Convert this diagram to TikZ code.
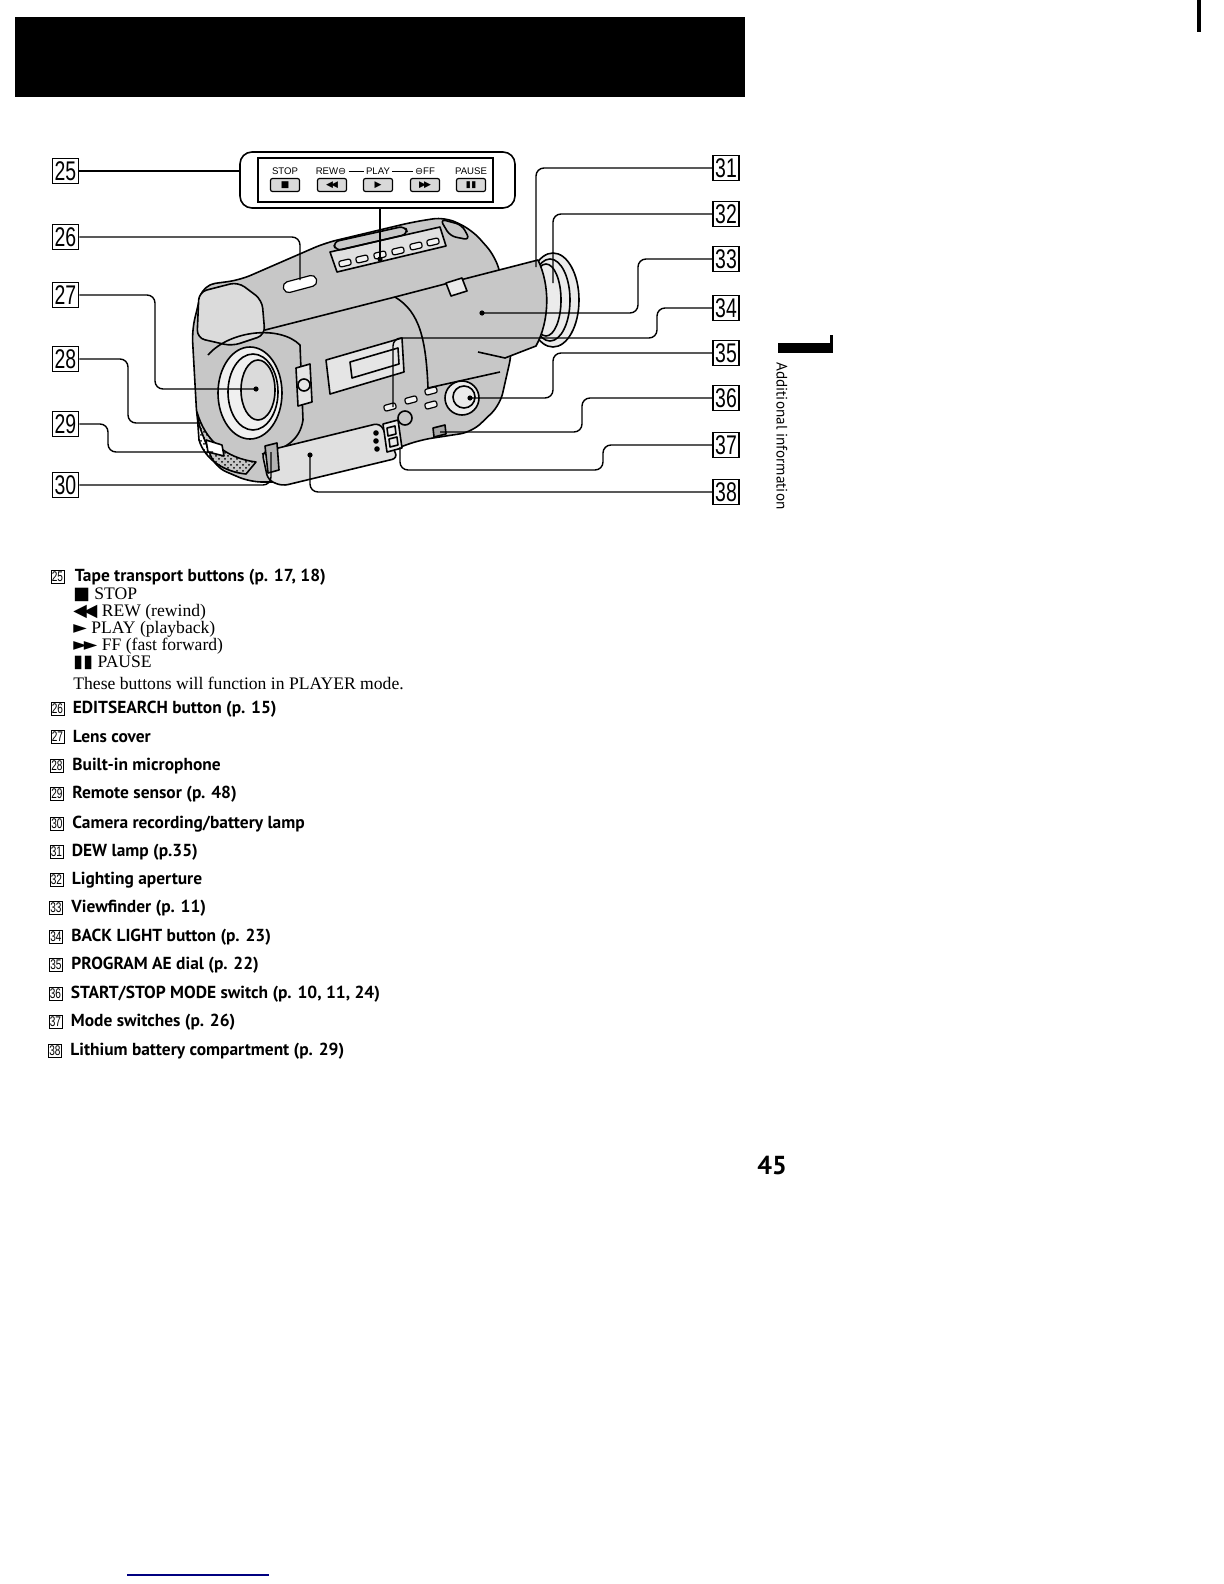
\documentclass[tikz,border=0pt]{standalone}
\usepackage{fontspec}
\usetikzlibrary{positioning,patterns}
\newfontfamily\labelfont[FakeStretch=0.72]{Liberation Sans}
\newfontfamily\itemfont{PT Sans}
\newfontfamily\descfont{Liberation Serif}
\newfontfamily\symfont{DejaVu Sans}
\newfontfamily\panelfont{Liberation Sans}

\begin{document}
\begin{tikzpicture}[
  x=0.5pt, y=-0.5pt,
  numbox/.style={rectangle, draw, line width=0.8pt, inner sep=0pt, minimum width=13pt, minimum height=12.5pt, font=\labelfont\fontsize{13.5}{13.5}\selectfont},
  smallbox/.style={rectangle, draw, line width=0.5pt, inner sep=0pt, minimum width=6.5pt, minimum height=6.5pt, font=\labelfont\fontsize{7}{7}\selectfont},
  item/.style={inner sep=0pt, anchor=west, font=\itemfont\bfseries\fontsize{8.7}{10}\selectfont},
  desc/.style={inner sep=0pt, anchor=west, font=\descfont\fontsize{8.8}{10}\selectfont},
  leader/.style={line width=0.7pt, rounded corners=4pt},
  part/.style={line width=0.8pt, line join=round},
  btn/.style={draw, line width=0.6pt, fill=black!5, rounded corners=1pt, inner sep=0pt, minimum width=6pt, minimum height=3pt},
  pbtn/.style={draw, line width=0.6pt, fill=black!15, rounded corners=1pt, inner sep=0pt, minimum width=14.5pt, minimum height=6.5pt, font=\symfont\fontsize{4.5}{4.5}\selectfont},
  paneltxt/.style={inner sep=1pt, font=\panelfont\fontsize{4.8}{4.8}\selectfont},
  dot/.style={fill, circle, inner sep=0pt, minimum size=2.6pt}
]
\useasboundingbox (0,0) rectangle (1224,1584);

% Header bar and page marks
\fill (15,17) rectangle (745,97);
\fill (1197,0) rectangle (1201,32);
\fill (778,343) rectangle (833,353);
\fill (830,335) rectangle (833,353);
\node[rotate=-90, inner sep=0pt, font=\itemfont\fontsize{7.6}{7.6}\selectfont] (tabtext) at (782,436) {Additional information};
\node[inner sep=0pt, font=\itemfont\bfseries\fontsize{13}{13}\selectfont] (pagenum) at (772,1166) {45};
\draw[line width=0.6pt, blue!50!black] (127,1575) -- (269,1575);

% Camera body
\draw[part, fill=black!22, rounded corners=6pt] (203,285) -- (240,280) -- (325,243) -- (413,222) -- (445,217) -- (472,230) -- (495,256) -- (505,290) -- (512,352) -- (500,405) -- (472,432) -- (420,440) -- (330,472) -- (290,482) -- (250,482) -- (215,467) -- (197,420) -- (192,330) -- cycle;

% Eyecup and viewfinder tube
\draw[part, fill=black!8] (553,300) ellipse [x radius=13pt, y radius=23.5pt];
\draw[part] (550,300) ellipse [x radius=10pt, y radius=20.5pt];
\draw[part] (546,300) ellipse [x radius=7.5pt, y radius=18pt];
\fill[black!22] (468,278) -- (538,260) .. controls (550,285) and (550,320) .. (536,346) -- (505,358) -- (468,350) -- cycle;
\draw[part] (468,278) -- (538,260) .. controls (550,285) and (550,320) .. (536,346) -- (505,358) -- (478,352);
\draw[part] (395,297) -- (468,278);
\draw[part, fill=black!8] (446,283) -- (462,278) -- (467,291) -- (451,296) -- cycle;

% Hood and top
\draw[part, fill=black!14, rounded corners=4pt] (199,292) -- (238,282) -- (262,300) -- (265,335) -- (232,346) -- (197,338) -- cycle;
\draw[part, fill=black!12] (330,252) -- (440,227) -- (446,246) -- (337,272) -- cycle;
\draw[part, rounded corners=3pt] (333,242) -- (405,226) -- (408,234) -- (336,251) -- cycle;
\draw[part, rounded corners=3pt] (440,219) -- (462,225) -- (470,240) -- (450,236) -- cycle;
\node[btn, rotate=13] (tb1) at (345,263) {};
\node[btn, rotate=13] (tb2) at (362,259) {};
\node[btn, rotate=13] (tb3) at (380,255) {};
\node[btn, rotate=13] (tb4) at (398,251) {};
\node[btn, rotate=13] (tb5) at (416,246) {};
\node[btn, rotate=13] (tb6) at (433,242) {};
\node[btn, rotate=15, fill=white, minimum width=17pt, minimum height=5.5pt, rounded corners=2.5pt] (editbtn) at (300,284) {};

% Side panel
\draw[part] (265,330) -- (395,297) .. controls (420,312) and (426,340) .. (428,388) -- (500,372);
\draw[part, fill=black!10] (326,360) -- (402,338) -- (404,372) -- (330,394) -- cycle;
\draw[part] (350,362) -- (398,348) -- (399,364) -- (352,378) -- cycle;
\node[btn, rotate=15] (sb1) at (390,407) {};
\node[btn, rotate=15] (sb2) at (411,400) {};
\node[btn, rotate=15] (sb3) at (431,391) {};
\node[btn, rotate=15] (sb4) at (431,405) {};
\draw[part] (405,418) circle [radius=3.5pt];
\draw[part, fill=black!8] (462,398) circle [radius=8.5pt];
\draw[part] (464,397) circle [radius=5.5pt];
\draw[part, fill=black!35] (433,428) -- (445,425) -- (446,434) -- (434,437) -- cycle;

% Lens front
\draw[part] (208,355) .. controls (230,330) and (280,325) .. (300,345) -- (303,420) .. controls (300,440) and (285,450) .. (262,454);
\draw[part, fill=black!6] (250,393) ellipse [x radius=16pt, y radius=23pt];
\draw[part] (253,392) ellipse [x radius=12.5pt, y radius=19pt];
\draw[part, fill=black!14] (258,390) ellipse [x radius=8.5pt, y radius=15pt];
\draw[part, fill=black!10] (296,368) -- (310,364) -- (312,402) -- (298,406) -- cycle;
\draw[part] (304,385) circle [radius=3pt];
\draw[part, pattern=crosshatch dots] (197,412) .. controls (205,440) and (225,458) .. (256,462) -- (246,474) .. controls (225,472) and (205,460) .. (199,440) -- cycle;
\draw[part, fill=white] (206,440) -- (222,445) -- (224,456) -- (208,452) -- cycle;

% Battery lid, lamp and mode switches
\draw[part, fill=black!12, rounded corners=3pt] (262,452) -- (380,423) -- (398,458) -- (282,486) -- (268,480) -- cycle;
\draw[part, fill=black!30] (265,446) -- (277,443) -- (279,470) -- (268,473) -- cycle;
\draw[part, fill=black!8] (383,424) -- (398,420) -- (402,448) -- (387,452) -- cycle;
\draw[part] (387,428) -- (395,426) -- (396,434) -- (388,436) -- cycle;
\draw[part] (389,439) -- (397,437) -- (398,445) -- (390,447) -- cycle;
\fill (376,433) circle [radius=1.4pt];
\fill (376,441) circle [radius=1.4pt];
\fill (377,449) circle [radius=1.4pt];

% Button panel
\node[draw, line width=0.8pt, rounded corners=6pt, minimum width=137.5pt, minimum height=28pt] (panel) at (377.5,180) {};
\node[draw, line width=0.6pt, minimum width=117.5pt, minimum height=22pt] (panelin) at (375.5,180) {};
\node[paneltxt] (pstop) at (285,171) {STOP};
\node[paneltxt] (prew) at (331,171) {REW{\symfont⊖}};
\node[paneltxt] (pplay) at (378,171) {PLAY};
\node[paneltxt] (pff) at (425,171) {{\symfont⊖}FF};
\node[paneltxt] (ppause) at (471,171) {PAUSE};
\draw[line width=0.5pt] (prew) -- (pplay);
\draw[line width=0.5pt] (pplay) -- (pff);
\node[pbtn] (pbstop) at (285,185) {■};
\node[pbtn] (pbrew) at (332,185) {◀\kern-1pt◀};
\node[pbtn] (pbplay) at (378,185) {▶};
\node[pbtn] (pbff) at (425,185) {▶\kern-1pt▶};
\node[pbtn] (pbpause) at (471,185) {▮\kern0.3pt▮};

% Label boxes
\node[numbox] (n25) at (65.5,171) {25};
\node[numbox] (n26) at (65.5,237) {26};
\node[numbox] (n27) at (65.5,295) {27};
\node[numbox] (n28) at (65.5,359) {28};
\node[numbox] (n29) at (65.5,424) {29};
\node[numbox] (n30) at (65.5,485) {30};
\node[numbox] (n31) at (726,168) {31};
\node[numbox] (n32) at (726,214) {32};
\node[numbox] (n33) at (726,259) {33};
\node[numbox] (n34) at (726,308) {34};
\node[numbox] (n35) at (726,353) {35};
\node[numbox] (n36) at (726,398) {36};
\node[numbox] (n37) at (726,445) {37};
\node[numbox] (n38) at (726,492) {38};

% Leader targets
\coordinate (topbtn) at (380,259);
\coordinate (editsearch) at (300,280);
\coordinate (lens) at (256,389);
\coordinate (mic) at (200,423);
\coordinate (remote) at (213,452);
\coordinate (lamp) at (271,452);
\coordinate (dew) at (536,267);
\coordinate (aperture) at (553,283);
\coordinate (vfinder) at (482,313);
\coordinate (backlight) at (393,407);
\coordinate (dial) at (470,398);
\coordinate (ssswitch) at (440,432);
\coordinate (modesw) at (400,447);
\coordinate (battery) at (310,455);

% Leaders
\draw[leader] (n25.east) -- (n25.east -| panel.west);
\draw[leader] (panel.south -| topbtn) -- (topbtn);
\draw[leader] (n26.east) -| (editsearch);
\draw[leader] (n27.east) -| (155,389) -- (lens);
\draw[leader] (n28.east) -| (128,423) -- (mic);
\draw[leader] (n29.east) -| (108,452) -- (remote);
\draw[leader] (n30.east) -| (lamp);
\draw[leader] (n31.west) -| (dew);
\draw[leader] (n32.west) -| (aperture);
\draw[leader] (n33.west) -| (638,313) -- (vfinder);
\draw[leader] (n34.west) -| (657,338) -| (backlight);
\draw[leader] (n35.west) -| (553,398) -- (dial);
\draw[leader] (n36.west) -| (582,432) -- (ssswitch);
\draw[leader] (n37.west) -| (603,470) -| (modesw);
\draw[leader] (n38.west) -| (battery);
\node[dot] (d1) at (topbtn) {};
\node[dot] (d2) at (lens) {};
\node[dot] (d3) at (vfinder) {};
\node[dot] (d4) at (dial) {};
\node[dot] (d5) at (battery) {};

% Item list
\node[smallbox] (b25) at (57.5,577) {25};
\node[item, right=5pt of b25] (t25) {Tape transport buttons (p. 17, 18)};
\node[desc] (s1) at (73,595) {{\symfont■} STOP};
\node[desc] (s2) at (73,612) {{\symfont◀\kern-1.5pt◀} REW (rewind)};
\node[desc] (s3) at (73,629) {{\symfont►} PLAY (playback)};
\node[desc] (s4) at (73,646) {{\symfont►\kern-1.5pt►} FF (fast forward)};
\node[desc] (s5) at (73,663) {{\symfont▮\kern0.2pt▮} PAUSE};
\node[desc] (s6) at (73,683) {These buttons will function in PLAYER mode.};
\node[smallbox] (b26) at (57.5,709) {26};
\node[item, right=4pt of b26] (t26) {EDITSEARCH button (p. 15)};
\node[smallbox] (b27) at (57.5,737) {27};
\node[item, right=4pt of b27] (t27) {Lens cover};
\node[smallbox] (b28) at (57,766) {28};
\node[item, right=4pt of b28] (t28) {Built-in microphone};
\node[smallbox] (b29) at (57,794) {29};
\node[item, right=4pt of b29] (t29) {Remote sensor (p. 48)};
\node[smallbox] (b30) at (57,824) {30};
\node[item, right=4pt of b30] (t30) {Camera recording/battery lamp};
\node[smallbox] (b31) at (56.5,852) {31};
\node[item, right=4pt of b31] (t31) {DEW lamp (p.35)};
\node[smallbox] (b32) at (56.5,880) {32};
\node[item, right=4pt of b32] (t32) {Lighting aperture};
\node[smallbox] (b33) at (56,908) {33};
\node[item, right=4pt of b33] (t33) {Viewfinder (p. 11)};
\node[smallbox] (b34) at (56,937) {34};
\node[item, right=4pt of b34] (t34) {BACK LIGHT button (p. 23)};
\node[smallbox] (b35) at (56,965) {35};
\node[item, right=4pt of b35] (t35) {PROGRAM AE dial (p. 22)};
\node[smallbox] (b36) at (55.5,994) {36};
\node[item, right=4pt of b36] (t36) {START/STOP MODE switch (p. 10, 11, 24)};
\node[smallbox] (b37) at (55.5,1022) {37};
\node[item, right=4pt of b37] (t37) {Mode switches (p. 26)};
\node[smallbox] (b38) at (55,1051) {38};
\node[item, right=4pt of b38] (t38) {Lithium battery compartment (p. 29)};

\end{tikzpicture}
\end{document}
